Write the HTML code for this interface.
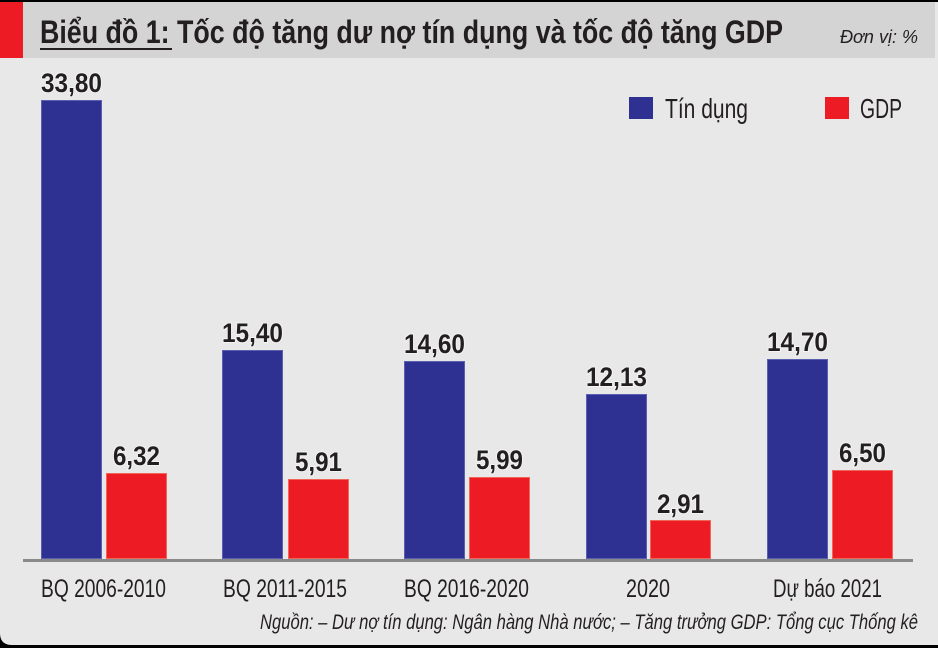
<!DOCTYPE html>
<html><head><meta charset="utf-8">
<style>
html,body{margin:0;padding:0;background:#000;}
svg{display:block;}
text{font-family:"Liberation Sans Narrow","Liberation Sans",sans-serif;fill:#231f20;}
.v{font-weight:bold;font-size:27px;paint-order:stroke;stroke:#f4f4f4;stroke-width:2px;}
.c{font-size:25px;}
</style></head>
<body>
<svg width="938" height="648" viewBox="0 0 938 648" xmlns="http://www.w3.org/2000/svg">
<rect x="0" y="0" width="938" height="648" fill="#000"/>
<path d="M0 2 H938 V645 H12 Q0 645 0 633 Z" fill="#e8e8e8"/>
<rect x="0" y="2" width="935" height="56" fill="#d4d4d4"/>
<rect x="0" y="2" width="23" height="56" fill="#ed1c24"/>
<!-- title -->
<text x="40" y="43" font-size="32" font-weight="bold" textLength="743" lengthAdjust="spacingAndGlyphs">Biểu đồ 1: Tốc độ tăng dư nợ tín dụng và tốc độ tăng GDP</text>
<rect x="40" y="48" width="132" height="2" fill="#231f20"/>
<text x="840" y="43" font-size="18" font-style="italic" textLength="78" lengthAdjust="spacingAndGlyphs">Đơn vị: %</text>
<!-- legend -->
<rect x="629" y="97" width="24" height="22" fill="#2e3192"/>
<text x="665" y="118" font-size="28" textLength="83" lengthAdjust="spacingAndGlyphs">Tín dụng</text>
<rect x="825" y="97" width="24" height="22" fill="#ed1c24"/>
<text x="860" y="118" font-size="28" textLength="42" lengthAdjust="spacingAndGlyphs">GDP</text>
<!-- bars -->
<g fill="#2e3192" stroke="#5a5fb0" stroke-width="1">
<rect x="41.5" y="100.5" width="60" height="458"/>
<rect x="222.5" y="350.5" width="60" height="208"/>
<rect x="404.5" y="361.5" width="60" height="197"/>
<rect x="586.5" y="394.5" width="60" height="164"/>
<rect x="767.5" y="359.5" width="60" height="199"/>
</g>
<g fill="#ed1c24" stroke="#f0665a" stroke-width="1">
<rect x="106.5" y="473.5" width="60" height="85"/>
<rect x="288.5" y="479.5" width="60" height="79"/>
<rect x="469.5" y="477.5" width="60" height="81"/>
<rect x="650.5" y="520.5" width="60" height="38"/>
<rect x="832.5" y="470.5" width="60" height="88"/>
</g>
<!-- axis -->
<rect x="23" y="559" width="890" height="3" fill="#8a8a8a"/>
<!-- value labels -->
<g class="v" text-anchor="middle">
<text x="71.5" y="92" textLength="61" lengthAdjust="spacingAndGlyphs">33,80</text>
<text x="252.5" y="342" textLength="61" lengthAdjust="spacingAndGlyphs">15,40</text>
<text x="434.5" y="353" textLength="61" lengthAdjust="spacingAndGlyphs">14,60</text>
<text x="616.5" y="386" textLength="61" lengthAdjust="spacingAndGlyphs">12,13</text>
<text x="797.5" y="351" textLength="61" lengthAdjust="spacingAndGlyphs">14,70</text>
<text x="136.5" y="465" textLength="47" lengthAdjust="spacingAndGlyphs">6,32</text>
<text x="318.5" y="471" textLength="47" lengthAdjust="spacingAndGlyphs">5,91</text>
<text x="499.5" y="469" textLength="47" lengthAdjust="spacingAndGlyphs">5,99</text>
<text x="680.5" y="513" textLength="47" lengthAdjust="spacingAndGlyphs">2,91</text>
<text x="862.5" y="462" textLength="47" lengthAdjust="spacingAndGlyphs">6,50</text>
</g>
<!-- category labels -->
<g class="c">
<text x="41" y="597" textLength="125" lengthAdjust="spacingAndGlyphs">BQ 2006-2010</text>
<text x="223" y="597" textLength="124" lengthAdjust="spacingAndGlyphs">BQ 2011-2015</text>
<text x="404" y="597" textLength="125" lengthAdjust="spacingAndGlyphs">BQ 2016-2020</text>
<text x="626" y="597" textLength="44" lengthAdjust="spacingAndGlyphs">2020</text>
<text x="773" y="597" textLength="109" lengthAdjust="spacingAndGlyphs">Dự báo 2021</text>
</g>
<!-- source -->
<text x="260" y="629" font-size="21" font-style="italic" textLength="658" lengthAdjust="spacingAndGlyphs">Nguồn: –  Dư nợ tín dụng: Ngân hàng Nhà nước;  – Tăng trưởng GDP: Tổng cục Thống kê</text>
</svg>
</body></html>
